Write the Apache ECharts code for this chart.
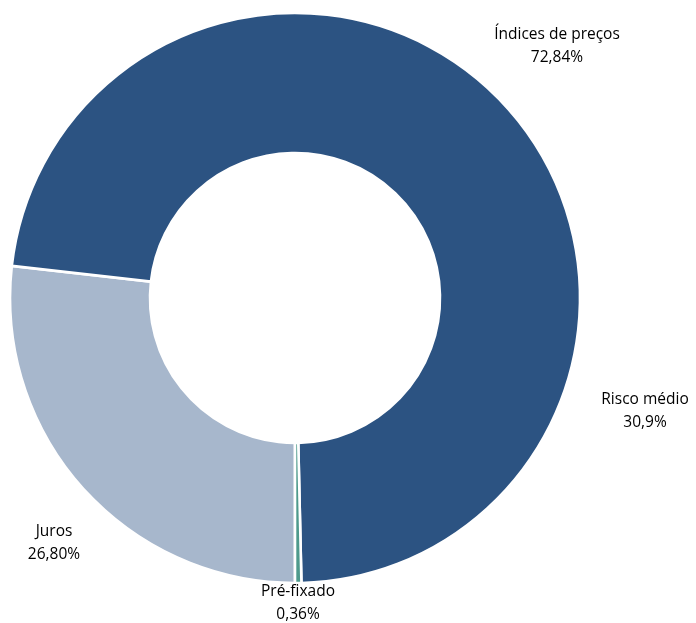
<!DOCTYPE html>
<html>
<head>
<meta charset="utf-8">
<script src="https://cdn.jsdelivr.net/npm/echarts@6/dist/echarts.min.js"></script>
<style>
  html, body { margin: 0; padding: 0; background: #ffffff; }
  #chart { width: 696px; height: 623px; }
</style>
</head>
<body>
<div id="chart"></div>
<script>
// Slice names and shares (%), in drawing order (clockwise from 6 o'clock)
const categories = ['Juros', 'Índices de preços', 'Pré-fixado'];
const shares = [26.80, 72.84, 0.36];
const shareText = ['26,80%', '72,84%', '0,36%'];

// Extra note placed beside the ring
const noteName = 'Risco médio';
const noteText = '30,9%';

const sliceColors = ['#A7B7CC', '#2C5382', '#4E9A8C'];
// Label centres for each slice (px)
const labelSpots = [[54, 543], [557, 46], [298, 603]];

const chart = echarts.init(document.getElementById('chart'), null, { renderer: 'canvas' });

const labelFont = { fontFamily: 'Open Sans', fontSize: 15.5, color: '#000000', lineHeight: 23 };

chart.setOption({
  animation: false,
  backgroundColor: '#ffffff',
  series: [{
    type: 'pie',
    center: [295, 298],
    radius: [145, 285],
    startAngle: -90,
    clockwise: true,
    avoidLabelOverlap: false,
    itemStyle: { borderColor: '#ffffff', borderWidth: 2.6 },
    label: Object.assign({
      show: true,
      position: 'outside',
      align: 'center',
      formatter: p => p.name + '\n' + shareText[p.dataIndex]
    }, labelFont),
    labelLine: { show: false },
    labelLayout: p => ({
      x: labelSpots[p.dataIndex][0],
      y: labelSpots[p.dataIndex][1],
      align: 'center',
      verticalAlign: 'middle'
    }),
    emphasis: { disabled: true },
    data: categories.map((c, i) => ({
      name: c,
      value: shares[i],
      itemStyle: { color: sliceColors[i] }
    }))
  }],
  graphic: [{
    type: 'text',
    x: 645,
    y: 411,
    style: {
      text: noteName + '\n' + noteText,
      align: 'center',
      verticalAlign: 'middle',
      fontFamily: 'Open Sans',
      fontSize: 15.5,
      lineHeight: 23,
      fill: '#000000'
    }
  }]
});
</script>
</body>
</html>
